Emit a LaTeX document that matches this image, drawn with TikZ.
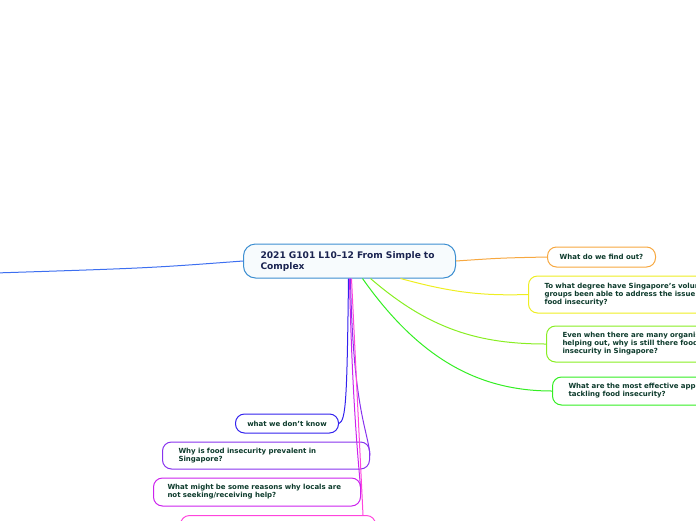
\documentclass[tikz,border=0pt]{standalone}
\usepackage{fontspec}
\setmainfont{DejaVu Sans}
\usepackage{tikz}
\usetikzlibrary{calc}
\definecolor{topicline}{HTML}{3D8FD1}
\definecolor{topictext}{HTML}{1A2350}
\definecolor{subtext}{HTML}{0D3B2C}
\definecolor{blueline}{HTML}{3D6FF0}
\definecolor{orangeline}{HTML}{F7A840}
\definecolor{yellowline}{HTML}{EEEE22}
\definecolor{limeline}{HTML}{88EE22}
\definecolor{greenline}{HTML}{33EE22}
\definecolor{indigoline}{HTML}{3322EE}
\definecolor{purpleline}{HTML}{8833EE}
\definecolor{violetline}{HTML}{CC22EE}
\definecolor{pinkline}{HTML}{FF44DD}
\tikzset{
    topic/.style={draw=topicline, line width=1pt, fill=topicline!4, rounded corners=12pt, align=left, anchor=west, text=topictext, font=\fontsize{9.1}{11}\selectfont\bfseries, inner xsep=17pt, text width=178pt, minimum height=34pt},
    sub/.style={line width=1pt, fill=white, rounded corners=9pt, align=left, anchor=west, text=subtext, font=\fontsize{7}{8}\selectfont\bfseries, inner xsep=16pt},
    branch/.style={line width=1pt}
}

\begin{document}
\begin{tikzpicture}[x=1pt, y=-1pt]
    \useasboundingbox (0,0) rectangle (696,520);
    \clip (0,0) rectangle (696,520);

    \node[topic] (map) at (243,261) {2021 G101 L10--12 From Simple to\\Complex};
    \coordinate (offleft) at (-5,273);

    % right side questions
    \node[sub, draw=orangeline, inner xsep=9pt, text width=90pt, align=center, minimum height=20pt] (findout) at (547,257) {What do we find out?};
    \node[sub, draw=yellowline, text width=200pt, minimum height=37pt] (degree) at (528,294.5) {To what degree have Singapore's volunteer\\groups been able to address the issue of\\food insecurity?};
    \node[sub, draw=limeline, text width=200pt, minimum height=36pt] (evenwhen) at (546,344) {Even when there are many organisations\\helping out, why is still there food\\insecurity in Singapore?};
    \node[sub, draw=greenline, text width=200pt, minimum height=28pt] (effective) at (552,391) {What are the most effective approaches in\\tackling food insecurity?};

    % lower questions
    \node[sub, draw=indigoline, inner xsep=8pt, text width=87pt, align=center, minimum height=19pt] (dontknow) at (235,423.5) {what we don't know};
    \node[sub, draw=purpleline, text width=175pt, minimum height=27pt] (prevalent) at (162,455.5) {Why is food insecurity prevalent in\\Singapore?};
    \node[sub, draw=violetline, inner xsep=14pt, text width=179pt, minimum height=28pt] (reasons) at (153,492) {What might be some reasons why locals are\\not seeking/receiving help?};
    \node[sub, draw=pinkline, anchor=north west, text width=163pt, minimum height=30pt] (nextq) at (180,515) {};

    % branches
    \draw[branch, blueline] (map.west) .. controls (150,268) .. (offleft);
    \draw[branch, orangeline] (map.east) .. controls (500,258) .. (findout.west);
    \draw[branch, yellowline] ($(map.south)+(51,0)$) .. controls (450,292) and (480,296) .. (degree.west);
    \draw[branch, limeline] ($(map.south)+(21,0)$) .. controls (430,330) and (480,344) .. (evenwhen.west);
    \draw[branch, greenline] ($(map.south)+(13,0)$) .. controls (420,360) and (480,391) .. (effective.west);
    \draw[branch, indigoline] ($(map.south)+(-1,0)$) .. controls (347,400) and (346,420) .. (dontknow.east);
    \draw[branch, purpleline] ($(map.south)+(1,0)$) .. controls (353,410) and (368,430) .. (prevalent.east);
    \draw[branch, violetline] ($(map.south)+(0,0)$) .. controls (352,400) and (359,470) .. (reasons.east);
    \draw[branch, pinkline] ($(map.south)+(2,0)$) -- ($(nextq.north east)+(-13,0)$);
\end{tikzpicture}
\end{document}
